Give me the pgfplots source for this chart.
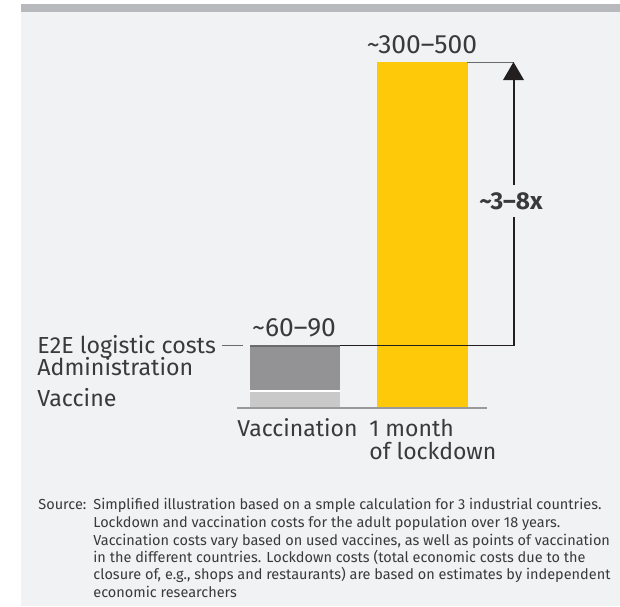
\documentclass[border=0pt]{standalone}
\usepackage{fontspec}
\setmainfont{Fira Sans}
\usepackage{pgfplots}
\pgfplotsset{compat=1.18}

\definecolor{panel}{HTML}{F1F2F4}
\definecolor{topbar}{HTML}{B8B9BC}
\definecolor{vaccine}{HTML}{C9C9CA}
\definecolor{admin}{HTML}{939396}
\definecolor{etoe}{HTML}{6B6B6E}
\definecolor{lockdown}{HTML}{FDC908}
\definecolor{baseln}{HTML}{9A9A9C}
\definecolor{txt}{HTML}{3A3A3C}
\definecolor{arrowc}{HTML}{231F20}

\begin{document}
\begin{tikzpicture}
% background, in pixel units (y down)
\begin{scope}[x=0.5pt,y=-0.5pt]
  \fill[white] (0,0) rectangle (620,606);
  \fill[panel] (21,4) rectangle (620,606);
  \fill[topbar] (21,4) rectangle (620,12);
\end{scope}

\begin{axis}[
    at={(118.5pt,-204pt)}, anchor=south west,
    scale only axis, width=125pt, height=173pt,
    hide axis, clip=false,
    xmin=-0.455, xmax=1.506,
    ymin=0, ymax=400,
    ybar stacked, bar width=0.706,
  ]
  % vaccination stack: vaccine, gap, administration, E2E logistics
  \addplot[fill=vaccine, draw=none] coordinates {(0,18.5) (1,0)};
  \addplot[fill=white, draw=none] coordinates {(0,2.5) (1,0)};
  \addplot[fill=admin, draw=none] coordinates {(0,49.5) (1,0)};
  \addplot[fill=etoe, draw=none] coordinates {(0,2.5) (1,0)};
  % one month of lockdown
  \addplot[fill=lockdown, draw=none] coordinates {(0,0) (1,400)};
\end{axis}

\begin{scope}[x=0.5pt,y=-0.5pt, every node/.style={text=txt, inner sep=0pt}]
  \draw[baseln, line width=1pt] (237,408) -- (487,408);
  % connectors
  \draw[etoe, line width=0.5pt] (222,345.5) -- (243,345.5);
  \draw[arrowc, line width=0.55pt] (340,345.5) -- (514.5,345.5);
  \draw[etoe, line width=0.5pt] (467,62.5) -- (514,62.5);
  % arrow
  \draw[arrowc, line width=1pt] (513.5,345.5) -- (513.5,217);
  \draw[arrowc, line width=1pt] (513.5,185) -- (513.5,79);
  \fill[arrowc] (503,80) -- (524,80) -- (513.5,62) -- cycle;
  \node[anchor=base, font=\fontsize{12.2}{14}\selectfont\bfseries] at (511,209) {\textasciitilde 3–8x};

  % value labels
  \node[anchor=base, font=\fontsize{13.2}{15}\selectfont] at (422,53) {\textasciitilde 300–500};
  \node[anchor=base, font=\fontsize{13.2}{15}\selectfont] at (294,336) {\textasciitilde 60–90};

  % legend labels
  \node[anchor=base west, font=\fontsize{11.6}{14}\selectfont] at (37,353) {E2E logistic costs};
  \node[anchor=base west, font=\fontsize{11.6}{14}\selectfont] at (37,375) {Administration};
  \node[anchor=base west, font=\fontsize{11.6}{14}\selectfont] at (37,406) {Vaccine};

  % category labels
  \node[anchor=base west, font=\fontsize{11.5}{14}\selectfont] at (237,436) {Vaccination};
  \node[anchor=base west, font=\fontsize{11.5}{14}\selectfont] at (369,436) {1 month};
  \node[anchor=base west, font=\fontsize{11.5}{14}\selectfont] at (369,459) {of lockdown};

  % source
  \begin{scope}[every node/.style={text=txt, inner sep=0pt, anchor=base west, font=\fontsize{7.25}{8.5}\selectfont}]
    \node at (38,509) {Source:};
    \node at (93,509) {Simplified illustration based on a smple calculation for 3 industrial countries.};
    \node at (93,527) {Lockdown and vaccination costs for the adult population over 18 years.};
    \node at (93,545) {Vaccination costs vary based on used vaccines, as well as points of vaccination};
    \node at (93,562) {in the different countries. Lockdown costs (total economic costs due to the};
    \node at (93,579) {closure of, e.g., shops and restaurants) are based on estimates by independent};
    \node at (93,597) {economic researchers};
  \end{scope}

  \pgfresetboundingbox
  \path[use as bounding box] (0,0) rectangle (620,606);
\end{scope}
\end{tikzpicture}
\end{document}
